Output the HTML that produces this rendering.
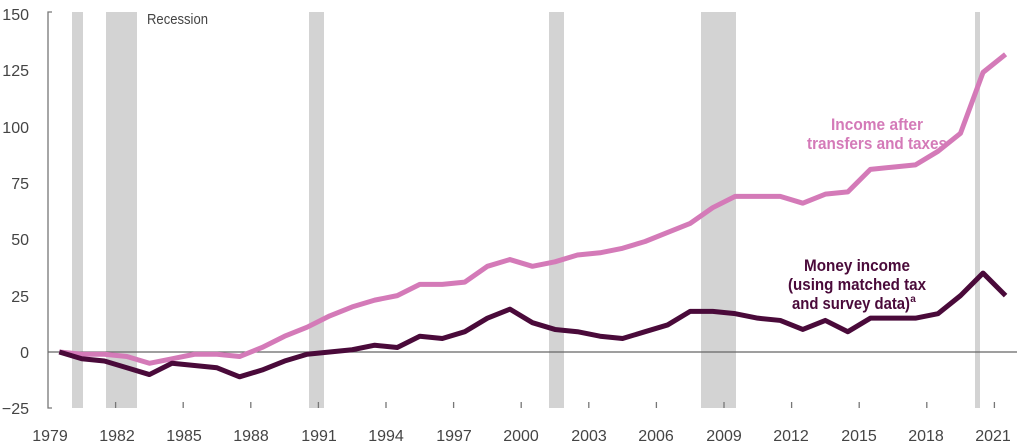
<!DOCTYPE html>
<html><head><meta charset="utf-8"><style>
html,body{margin:0;padding:0;background:#fff;width:1024px;height:445px;overflow:hidden}
text{font-family:"Liberation Sans Narrow","Liberation Sans",sans-serif}
</style></head><body>
<svg width="1024" height="445" viewBox="0 0 1024 445" xmlns="http://www.w3.org/2000/svg">
<g fill="#d3d3d3">
<rect x="72" y="12" width="11" height="396"/>
<rect x="106" y="12" width="31" height="396"/>
<rect x="309" y="12" width="15" height="396"/>
<rect x="549" y="12" width="15" height="396"/>
<rect x="701" y="12" width="35" height="396"/>
<rect x="975" y="12" width="5" height="396"/>
</g>
<text x="147" y="24" font-size="15" fill="#444" textLength="61" lengthAdjust="spacingAndGlyphs">Recession</text>
<g stroke="#777" stroke-width="1.3" fill="none">
<path d="M52,12 H48 V408 H52"/>
<line x1="48" y1="352" x2="1017" y2="352" stroke="#666"/>
<path d="M115.6,402V408 M183.2,402V408 M250.8,402V408 M318.4,402V408 M386,402V408 M453.6,402V408 M521.2,402V408 M588.8,402V408 M656.4,402V408 M724,402V408 M791.6,402V408 M859.2,402V408 M926.8,402V408 M994.4,402V408"/>
</g>
<g font-size="16" fill="#444" text-anchor="end">
<text x="29" y="20">150</text><text x="29" y="76">125</text><text x="29" y="133">100</text>
<text x="29" y="189">75</text><text x="29" y="245">50</text><text x="29" y="302">25</text>
<text x="29" y="358">0</text><text x="29" y="414">−25</text>
</g>
<g font-size="16" fill="#444" text-anchor="middle">
<text x="50" y="441">1979</text><text x="117" y="441">1982</text><text x="184" y="441">1985</text>
<text x="251" y="441">1988</text><text x="319" y="441">1991</text><text x="386" y="441">1994</text>
<text x="454" y="441">1997</text><text x="521" y="441">2000</text><text x="589" y="441">2003</text>
<text x="656" y="441">2006</text><text x="724" y="441">2009</text><text x="791" y="441">2012</text>
<text x="859" y="441">2015</text><text x="926" y="441">2018</text><text x="993" y="441">2021</text>
</g>
<g transform="translate(59.3,352) scale(22.53,-2.255)" fill="none" stroke-linejoin="round">
<polyline vector-effect="non-scaling-stroke" stroke="#d47ab8" stroke-width="5" points="0,0 1,-1 2,-1 3,-2 4,-5 5,-3 6,-1 7,-1 8,-2 9,2 10,7 11,11 12,16 13,20 14,23 15,25 16,30 17,30 18,31 19,38 20,41 21,38 22,40 23,43 24,44 25,46 26,49 27,53 28,57 29,64 30,69 31,69 32,69 33,66 34,70 35,71 36,81 37,82 38,83 39,89 40,97 41,124 42,132"/>
<polyline vector-effect="non-scaling-stroke" stroke="#4a0a3a" stroke-width="5" points="0,0 1,-3 2,-4 3,-7 4,-10 5,-5 6,-6 7,-7 8,-11 9,-8 10,-4 11,-1 12,0 13,1 14,3 15,2 16,7 17,6 18,9 19,15 20,19 21,13 22,10 23,9 24,7 25,6 26,9 27,12 28,18 29,18 30,17 31,15 32,14 33,10 34,14 35,9 36,15 37,15 38,15 39,17 40,25 41,35 42,25"/>
</g>
<g font-size="17" text-anchor="middle" font-weight="bold">
<text x="877" y="130" fill="#d47ab8" textLength="92" lengthAdjust="spacingAndGlyphs">Income after</text>
<text x="877" y="149" fill="#d47ab8" textLength="140" lengthAdjust="spacingAndGlyphs">transfers and taxes</text>
<text x="857" y="271" fill="#4a0a3a" textLength="106" lengthAdjust="spacingAndGlyphs">Money income</text>
<text x="857" y="290" fill="#4a0a3a" textLength="138" lengthAdjust="spacingAndGlyphs">(using matched tax</text>
<text x="851" y="309" fill="#4a0a3a" textLength="118" lengthAdjust="spacingAndGlyphs">and survey data)</text>
<text x="913" y="302" fill="#4a0a3a" font-size="10">a</text>
</g>
</svg>
</body></html>
